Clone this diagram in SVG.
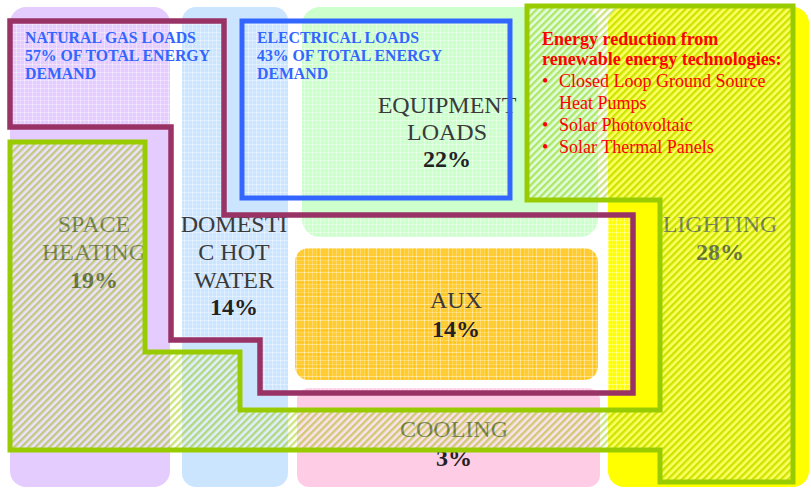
<svg xmlns="http://www.w3.org/2000/svg" width="811" height="488" viewBox="0 0 811 488">
<defs>
<style>
.lbl{font-family:"Liberation Serif","Times New Roman",serif;font-size:24px;fill:#3a3a3a;text-anchor:middle}
.pct{font-family:"Liberation Serif","Times New Roman",serif;font-size:24px;font-weight:bold;fill:#222;text-anchor:middle}
.hdr{font-family:"Liberation Serif","Times New Roman",serif;font-size:15.8px;font-weight:bold;fill:#3366FF}
.red{font-family:"Liberation Serif","Times New Roman",serif;font-size:18px;fill:#FF0000}
.redb{font-weight:bold}
.col{stroke:none}
</style>
<pattern id="hatch" patternUnits="userSpaceOnUse" width="5" height="5" patternTransform="rotate(45)">
<rect x="0" y="0" width="2.5" height="5" fill="#99CC00" fill-opacity="0.5"/>
<rect x="2.5" y="0" width="2.5" height="5" fill="#FFFFFF" fill-opacity="0.4"/>
</pattern>
<pattern id="grid" patternUnits="userSpaceOnUse" width="8" height="8">
<path d="M0 0.5H8M0.5 0V8" stroke="#FFFFFF" stroke-opacity="0.4" stroke-width="1" fill="none"/>
<path d="M0 4.5H8M4.5 0V8" stroke="#FFFFFF" stroke-opacity="0.18" stroke-width="1" fill="none"/>
</pattern>
<pattern id="auxgrid" patternUnits="userSpaceOnUse" width="12" height="12">
<path d="M0 0.5H12M0.5 0V12" stroke="#FFC000" stroke-width="1" fill="none"/>
<path d="M0 6.5H12M6.5 0V12" stroke="#FFC000" stroke-opacity="0.5" stroke-width="1" fill="none"/>
</pattern>
</defs>
<rect width="811" height="488" fill="#FFFFFF"/>

<g id="space-heating">
<rect class="col" x="10" y="7" width="160" height="480" rx="16" fill="#E5CCFF"/>
</g>
<g id="domestic-hot-water">
<rect class="col" x="182" y="7" width="106" height="480" rx="14" fill="#CCE5FF"/>
</g>
<g id="equipment-loads">
<rect class="col" x="302" y="7" width="296" height="230" rx="18" fill="#CCFFCC"/>
</g>
<g id="cooling">
<rect class="col" x="297" y="388" width="303" height="99" rx="12" fill="#FFCCE6"/>
</g>
<g id="lighting">
<rect class="col" x="608" y="7" width="201" height="480" rx="16" fill="#FFFF00"/>
</g>
<g id="aux">
<rect class="col" x="295" y="248" width="303" height="132" rx="14" fill="#FFCC33"/>
<rect class="col" x="295" y="248" width="303" height="132" rx="14" fill="url(#auxgrid)"/>
</g>

<g id="grid-overlays">
<polygon points="10,21 224,21 224,215 633,215 633,393 260,393 260,340 171,340 171,127 10,127" fill="url(#grid)"/>
<rect x="242" y="21" width="268" height="177" fill="url(#grid)"/>
</g>

<g id="labels">
<text class="lbl" x="94" y="232">SPACE</text>
<text class="lbl" x="94" y="260">HEATING</text>
<text class="pct" x="94" y="288">19%</text>
<text class="lbl" x="234" y="232">DOMESTI</text>
<text class="lbl" x="234" y="260">C HOT</text>
<text class="lbl" x="234" y="288">WATER</text>
<text class="pct" x="234" y="315">14%</text>
<text class="lbl" x="447" y="113">EQUIPMENT</text>
<text class="lbl" x="447" y="140">LOADS</text>
<text class="pct" x="447" y="167">22%</text>
<text class="lbl" x="456" y="308">AUX</text>
<text class="pct" x="456" y="337">14%</text>
<text class="lbl" x="454" y="437">COOLING</text>
<text class="pct" x="454" y="466">3%</text>
<text class="lbl" x="720" y="232">LIGHTING</text>
<text class="pct" x="720" y="260">28%</text>
</g>

<g id="connectors">
<polygon id="renewable-outline" points="10,142 145,142 145,352 240,352 240,410 660,410 660,200 527,200 527,6 793,6 793,482 660,482 660,450 10,450" fill="url(#hatch)" stroke="#99CC00" stroke-width="5"/>
<polygon id="natural-gas-outline" points="10,21 224,21 224,215 633,215 633,393 260,393 260,340 171,340 171,127 10,127" fill="none" stroke="#993366" stroke-width="5.5"/>
<rect id="electrical-outline" x="242" y="21" width="268" height="177" fill="none" stroke="#3366FF" stroke-width="5"/>
</g>

<g id="natural-gas-loads">
<text class="hdr" x="25" y="43">NATURAL GAS LOADS</text>
<text class="hdr" x="25" y="61">57% OF TOTAL ENERGY</text>
<text class="hdr" x="25" y="79">DEMAND</text>
</g>
<g id="electrical-loads">
<text class="hdr" x="257" y="43">ELECTRICAL LOADS</text>
<text class="hdr" x="257" y="61">43% OF TOTAL ENERGY</text>
<text class="hdr" x="257" y="79">DEMAND</text>
</g>
<g id="renewable-note">
<text class="red redb" x="542" y="45">Energy reduction from</text>
<text class="red redb" x="542" y="65">renewable energy technologies:</text>
<text class="red" x="542" y="87">•</text>
<text class="red" x="559" y="87">Closed Loop Ground Source</text>
<text class="red" x="559" y="109">Heat Pumps</text>
<text class="red" x="542" y="131">•</text>
<text class="red" x="559" y="131">Solar Photovoltaic</text>
<text class="red" x="542" y="153">•</text>
<text class="red" x="559" y="153">Solar Thermal Panels</text>
</g>
</svg>
